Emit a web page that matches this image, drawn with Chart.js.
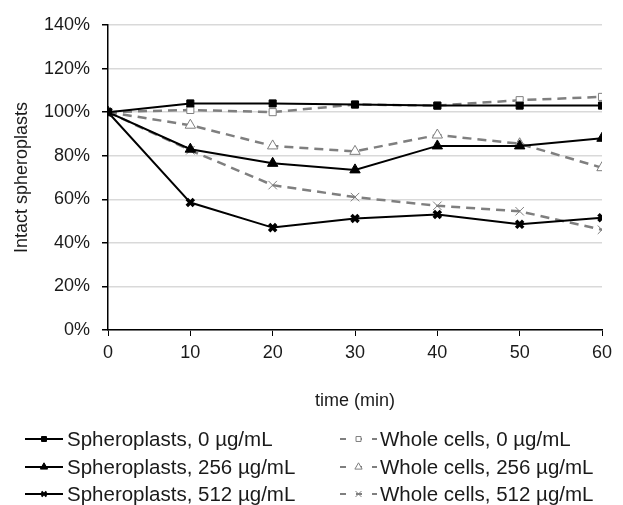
<!DOCTYPE html>
<html>
<head>
<meta charset="utf-8">
<script src="https://cdn.jsdelivr.net/npm/chart.js@4.4.1/dist/chart.umd.min.js"></script>
<style>
  html, body { margin: 0; padding: 0; background: #fff; }
  #wrap { position: relative; width: 623px; height: 505px; }
</style>
</head>
<body>
<div id="wrap"><canvas id="chart" width="623" height="505"></canvas></div>
<script>
// tempo (min) e valores, em %
const times = [0, 10, 20, 30, 40, 50, 60];
const sph0   = [100, 104, 104, 103.5, 103, 103, 103];
const sph256 = [100, 83, 76.5, 73.5, 84.5, 84.5, 88];
const sph512 = [100, 58.5, 47, 51.2, 53, 48.5, 51.5];
const whole0   = [100, 101, 100, 103.5, 103, 105.5, 107];
const whole256 = [100, 94, 84.5, 82, 89.5, 85.5, 74.5];
const whole512 = [100, 82.5, 66.5, 61, 57, 54.5, 46];
const yTicks = [0, 20, 40, 60, 80, 100, 120, 140];

const FONT = 'Liberation Sans, Arial, sans-serif';
const GRAY = '#7f7f7f';
const TXT = '#1a1a1a';

function pts(vals) {
    return times.map((t, i) => ({ x: t, y: vals[i] }));
}

function solid(label, vals, style, radius, bw) {
    return {
        label, data: pts(vals),
        borderColor: '#000', backgroundColor: '#000',
        borderWidth: 2, pointStyle: style, pointRadius: radius,
        pointBorderWidth: bw, pointBackgroundColor: '#000', pointBorderColor: '#000',
        tension: 0
    };
}

function dashed(label, vals, style, radius) {
    return {
        label, data: pts(vals),
        borderColor: GRAY, backgroundColor: '#fff',
        borderWidth: 2.5, borderDash: [9, 6],
        pointStyle: style, pointRadius: radius, pointBorderWidth: 1,
        pointBackgroundColor: '#fff', pointBorderColor: GRAY,
        tension: 0
    };
}

// legenda desenhada à mão em duas colunas
const legendPlugin = {
    id: 'twoColLegend',
    afterDraw(chart) {
        const ctx = chart.ctx;
        const rows = [439, 467, 494];
        const cols = [
            { x0: 25, x1: 63, tx: 67, dash: [] },
            { x0: 340, x1: 377, tx: 380, dash: [6, 10] }
        ];
        chart.data.datasets.forEach((ds, i) => {
            const c = cols[i % 2];
            const y = rows[Math.floor(i / 2)];
            ctx.save();
            ctx.strokeStyle = ds.borderColor;
            ctx.lineWidth = 2;
            ctx.setLineDash(c.dash);
            ctx.beginPath();
            ctx.moveTo(c.x0, y);
            ctx.lineTo(c.x1, y);
            ctx.stroke();
            ctx.setLineDash([]);
            ctx.fillStyle = ds.pointBackgroundColor;
            ctx.strokeStyle = ds.pointBorderColor;
            ctx.lineWidth = Math.min(ds.pointBorderWidth, 2);
            Chart.helpers.drawPoint(ctx, {
                pointStyle: ds.pointStyle,
                radius: ds.pointRadius * 0.7,
                rotation: 0,
                borderWidth: Math.min(ds.pointBorderWidth, 2)
            }, (c.x0 + c.x1) / 2, y);
            ctx.fillStyle = TXT;
            ctx.font = '20.5px ' + FONT;
            ctx.textBaseline = 'middle';
            ctx.fillText(ds.label, c.tx, y + 1);
            ctx.restore();
        });
    }
};

new Chart(document.getElementById('chart'), {
    type: 'line',
    data: {
        datasets: [
            solid('Spheroplasts, 0 µg/mL', sph0, 'rect', 5, 1),
            dashed('Whole cells, 0 µg/mL', whole0, 'rect', 5),
            solid('Spheroplasts, 256 µg/mL', sph256, 'triangle', 6, 1),
            dashed('Whole cells, 256 µg/mL', whole256, 'triangle', 6),
            solid('Spheroplasts, 512 µg/mL', sph512, 'crossRot', 5, 3.5),
            dashed('Whole cells, 512 µg/mL', whole512, 'crossRot', 6)
        ]
    },
    options: {
        responsive: false,
        animation: false,
        layout: { padding: { top: 25, right: 21, left: 0, bottom: 90 } },
        plugins: { legend: { display: false }, tooltip: { enabled: false } },
        scales: {
            x: {
                type: 'linear', min: 0, max: 60,
                afterFit(s) { s.height = 85; },
                afterBuildTicks(s) { s.ticks = times.map(v => ({ value: v })); },
                grid: { drawOnChartArea: false, tickColor: '#000', tickLength: 6 },
                border: { color: '#000', width: 1.5 },
                ticks: { color: TXT, font: { size: 18, family: FONT }, padding: 6, maxRotation: 0 },
                title: { display: true, text: 'time (min)', color: TXT, font: { size: 18, family: FONT }, padding: { top: 0, bottom: 3 } }
            },
            y: {
                min: 0, max: 140,
                afterFit(s) { s.width = 108; },
                afterBuildTicks(s) { s.ticks = yTicks.map(v => ({ value: v })); },
                grid: { color: '#d9d9d9', lineWidth: 1.5, tickColor: '#000', tickLength: 6 },
                border: { color: '#000', width: 1.5 },
                ticks: { color: TXT, font: { size: 18, family: FONT }, padding: 12, callback: v => v + '%' },
                title: { display: true, text: 'Intact spheroplasts', color: TXT, font: { size: 18, family: FONT }, padding: { top: 11, bottom: 0 } }
            }
        }
    },
    plugins: [legendPlugin]
});
</script>
</body>
</html>
